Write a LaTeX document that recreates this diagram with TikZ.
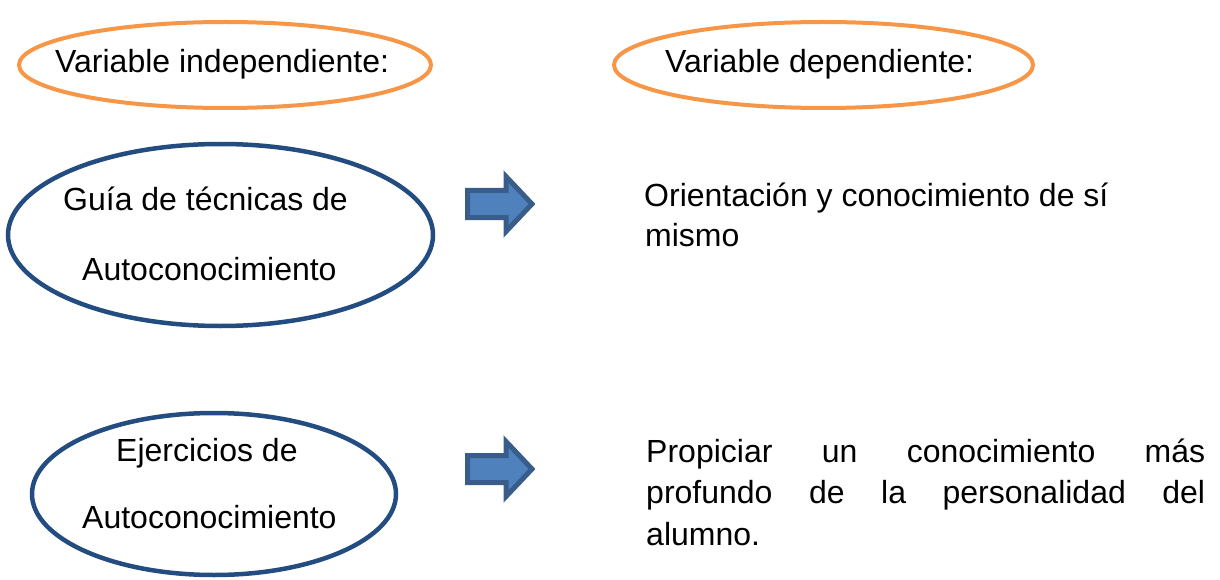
\documentclass[tikz,border=0pt]{standalone}
\usepackage{fontspec}
\setmainfont{Liberation Sans}
\usetikzlibrary{shapes.geometric}
\definecolor{varorange}{HTML}{F79646}
\definecolor{ellblue}{HTML}{234C80}
\definecolor{arrfill}{HTML}{4F81BD}
\definecolor{arrline}{HTML}{385D8A}
\begin{document}
\begin{tikzpicture}[x=1pt,y=-1pt,
  varell/.style={ellipse,draw=varorange,line width=4pt,inner sep=0pt},
  blueell/.style={ellipse,draw=ellblue,line width=4.5pt,inner sep=0pt},
  lbl/.style={anchor=base west,inner sep=0pt,font=\fontsize{32}{38}\selectfont},
  bigarrow/.style={fill=arrfill,draw=arrline,line width=5pt,line join=miter}]
\useasboundingbox (0,0) rectangle (1220,580);
% header ellipses
\node[varell,minimum width=412pt,minimum height=86pt] (ind) at (225,65) {};
\node[varell,minimum width=419pt,minimum height=86pt] (dep) at (823.5,65) {};
\node[lbl] (indt) at (55,73) {Variable independiente:};
\node[lbl] (dept) at (665,73) {Variable dependiente:};
% blue ellipses
\node[blueell,minimum width=425pt,minimum height=182pt] (guia) at (220.5,235) {};
\node[lbl] (guiat1) at (63,211) {Guía de técnicas de};
\node[lbl] (guiat2) at (82,280) {Autoconocimiento};
\node[blueell,minimum width=364pt,minimum height=162pt] (ejer) at (214,494) {};
\node[lbl] (ejert1) at (116,461) {Ejercicios de};
\node[lbl] (ejert2) at (82,528) {Autoconocimiento};
% arrows
\draw[bigarrow] (467.5,190.5) -- (506,190.5) -- (506,176.5) -- (532,204) -- (506,231.5) -- (506,217.5) -- (467.5,217.5) -- cycle;
\draw[bigarrow] (467.5,455.5) -- (506,455.5) -- (506,441.5) -- (532,469) -- (506,496.5) -- (506,482.5) -- (467.5,482.5) -- cycle;
% dependent texts
\node[lbl] (ori1) at (644,207) {Orientación y conocimiento de sí};
\node[lbl] (ori2) at (645,246) {mismo};
\node[lbl] (pro1) at (646,462) {\makebox[559pt][s]{Propiciar un conocimiento más}};
\node[lbl] (pro2) at (646,503) {\makebox[559pt][s]{profundo de la personalidad del}};
\node[lbl] (pro3) at (646,545) {alumno.};
\end{tikzpicture}
\end{document}
